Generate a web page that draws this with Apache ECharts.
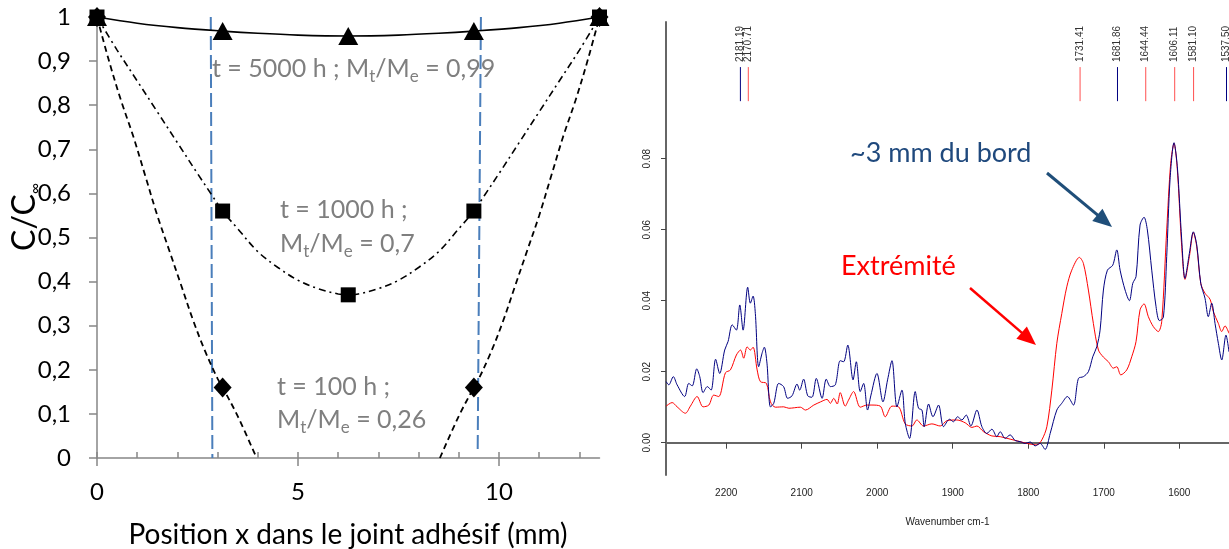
<!DOCTYPE html>
<html><head><meta charset="utf-8">
<script src="https://cdn.jsdelivr.net/npm/echarts@6/dist/echarts.min.js"></script>
<style>html,body{margin:0;padding:0;background:#fff}#c{width:1229px;height:549px}</style>
</head><body><div id="c"></div>
<script>
// ---------- Left chart data ----------
const posX = [0, 3.125, 6.25, 9.375, 12.5];
const mark5000 = [1, 0.968, 0.957, 0.968, 1];
const mark1000 = [1, 0.56, 0.37, 0.56, 1];
const mark100 = [1, 0.16, null, 0.16, 1];

const curve5000X = [0, 1, 2, 3.125, 4, 5, 6.25, 7.5, 8.5, 9.375, 10.5, 11.5, 12.5];
const curve5000Y = [1, 0.986, 0.976, 0.968, 0.963, 0.959, 0.957, 0.959, 0.963, 0.968, 0.976, 0.986, 1];

const curve1000X = [0, 0.5, 1, 1.5, 2, 2.5, 2.85, 3.125, 3.5, 4, 4.5, 5, 5.5, 6, 6.25, 6.5, 7, 7.5, 8, 8.5, 9, 9.375, 9.65, 10, 10.5, 11, 11.5, 12, 12.5];
const curve1000Y = [1, 0.925, 0.855, 0.785, 0.715, 0.645, 0.597, 0.56, 0.52, 0.468, 0.432, 0.403, 0.384, 0.372, 0.37, 0.372, 0.384, 0.403, 0.432, 0.468, 0.52, 0.56, 0.597, 0.645, 0.715, 0.785, 0.855, 0.925, 1];

const curve100LeftX = [0, 0.3, 0.6, 0.9, 1.2, 1.5, 1.8, 2.1, 2.4, 2.7, 3.0, 3.125, 3.5, 3.97];
const curve100LeftY = [1, 0.9, 0.81, 0.73, 0.64, 0.55, 0.47, 0.39, 0.31, 0.24, 0.18, 0.16, 0.095, 0];
const curve100RightX = [8.53, 9.0, 9.375, 9.5, 9.8, 10.1, 10.4, 10.7, 11.0, 11.3, 11.6, 11.9, 12.2, 12.5];
const curve100RightY = [0, 0.095, 0.16, 0.18, 0.24, 0.31, 0.39, 0.47, 0.55, 0.64, 0.73, 0.81, 0.9, 1];

const guideLeftX = [2.83, 2.87];
const guideLeftY = [1.0, 0];
const guideRightX = [9.55, 9.47];
const guideRightY = [1.0, 0.02];

const leftXLabels = [0, 5, 10];
const leftXMinor = [0, 1, 2, 3, 4, 5, 6, 7, 8, 9, 10, 11, 12];

// ---------- Right chart data (FTIR spectra) ----------
const blueWn = [2279.5,2276,2270,2265,2255,2249.6,2245,2239,2235,2230.6,2225,2220,2214,2208.6,2202,2197.5,2192,2186.5,2182,2177.6,2171.5,2168,2164.4,2161.4,2157,2152.5,2149.5,2146,2141.4,2137,2130.5,2124,2118.6,2112.8,2106.2,2102.7,2097.5,2092,2086.4,2080.7,2073,2067.5,2062,2055.5,2049,2044.5,2039,2032,2027.7,2022.5,2018,2012.8,2008.3,2000.4,1992.4,1986.3,1980.5,1973.9,1967.3,1962.9,1957.2,1949.7,1945.3,1940.8,1937.8,1932,1926.2,1918.8,1912.2,1904.3,1899,1893.7,1887.9,1882.2,1876,1868,1861.4,1854.8,1848.2,1841.6,1837.2,1830.6,1824,1817.4,1810.8,1804.1,1797.5,1790.9,1784.3,1777.7,1771,1762.2,1755.6,1748.2,1740.2,1733.6,1727,1720.4,1714.6,1709.3,1704.9,1700.5,1695.2,1688.1,1682.8,1678.4,1671.8,1666.1,1661.6,1657.3,1652,1646.7,1642.3,1636.5,1630.8,1626.4,1621.1,1616.7,1612.3,1607,1602.6,1596.8,1592.5,1586.7,1581.4,1576.9,1571.6,1566,1561.6,1557.1,1552.7,1548.3,1543.8,1538.2,1534.2];
const blueAbs = [0.0172,0.0163,0.0186,0.0163,0.013,0.0167,0.016,0.0208,0.0186,0.0141,0.0158,0.0148,0.0235,0.0195,0.0261,0.0285,0.0332,0.0317,0.0388,0.0317,0.0438,0.0393,0.0413,0.0364,0.0214,0.0252,0.0269,0.0224,0.0101,0.0111,0.0167,0.0158,0.0125,0.0132,0.0165,0.0148,0.0179,0.0132,0.0128,0.0181,0.0125,0.0179,0.0158,0.0163,0.0231,0.0228,0.0275,0.0177,0.0228,0.0144,0.0167,0.0092,0.0134,0.0195,0.0115,0.0177,0.0231,0.0101,0.0148,0.0055,0.0012,0.0144,0.0097,0.0092,0.0045,0.0109,0.0073,0.0106,0.0045,0.0066,0.0059,0.0073,0.0064,0.0078,0.0047,0.0092,0.0045,0.0026,0.0038,0.0017,0.0031,0.0012,0.0022,0.0006,0.0003,-0.0002,0.0002,-0.0009,-0.0002,-0.0019,0.0026,0.0092,0.0111,0.013,0.0106,0.0181,0.0186,0.02,0.0242,0.027,0.0317,0.043,0.0486,0.05,0.0543,0.0486,0.043,0.04,0.0449,0.0468,0.0613,0.0635,0.0599,0.0486,0.0383,0.0344,0.0353,0.0524,0.074,0.0845,0.0777,0.0571,0.0463,0.0533,0.0594,0.0557,0.0449,0.0407,0.0355,0.0393,0.0336,0.028,0.0233,0.0303,0.0256];

const redWn = [2279.5,2271.6,2265,2254,2247.4,2238.5,2230.6,2223,2216.5,2209.9,2201,2194.4,2186.5,2181,2176.8,2172.3,2168,2164.4,2159,2154.7,2146.7,2141.4,2134.8,2123.8,2117,2101.8,2095,2084,2075,2066.5,2062,2057.6,2053,2049,2042.4,2038,2031.3,2022.5,2013.7,2007,1996,1989.4,1980.5,1971.8,1962.9,1954,1947.5,1938.7,1927.6,1916.6,1907.7,1894.5,1883.5,1874.6,1868,1859.2,1848.2,1837.2,1824,1810.8,1797.5,1788.7,1782,1775.4,1768.8,1762.2,1755.6,1749,1742.4,1732.3,1727,1720.4,1713.8,1707.1,1700.5,1693.9,1687.3,1682.8,1677.5,1669.6,1663,1657.3,1652,1646.7,1641,1634.4,1627.8,1623.3,1616.7,1611.4,1607,1602.6,1596.8,1592.5,1586.7,1581.4,1576.9,1571.6,1566,1559.3,1554.9,1548.3,1543.8,1539.5,1534.2];
const redAbs = [0.0103,0.0113,0.0101,0.0083,0.0103,0.013,0.0101,0.0106,0.0134,0.013,0.0197,0.0205,0.0247,0.0261,0.0238,0.027,0.0261,0.0269,0.0205,0.0172,0.0167,0.0115,0.01,0.0101,0.0097,0.01,0.0092,0.0106,0.0115,0.0122,0.0111,0.0125,0.0109,0.0141,0.0103,0.012,0.0144,0.01,0.0106,0.0106,0.0103,0.0073,0.0103,0.0101,0.0053,0.0047,0.0064,0.0047,0.0053,0.0047,0.0062,0.0064,0.0056,0.0043,0.0047,0.0031,0.0019,0.0017,0.001,0.0003,-0.0004,-0.0006,0.0008,0.0045,0.0148,0.028,0.0364,0.0439,0.0486,0.0522,0.0505,0.043,0.0336,0.0261,0.0241,0.0228,0.021,0.0214,0.0191,0.0205,0.0242,0.0285,0.0374,0.0391,0.0355,0.0327,0.0313,0.0341,0.0599,0.0787,0.0843,0.0768,0.0552,0.046,0.0524,0.0592,0.0552,0.0449,0.0421,0.0404,0.0369,0.0336,0.0313,0.0329,0.0308];

const peakWn = [2181.19, 2170.71, 1731.41, 1681.86, 1644.44, 1606.11, 1581.10, 1537.50];
const peakSource = ['blue', 'red', 'red', 'blue', 'red', 'red', 'red', 'blue'];

const rightYTicks = [0, 0.02, 0.04, 0.06, 0.08];
const rightXTicks = [1600, 1700, 1800, 1900, 2000, 2100, 2200];

// ---------- helpers ----------
const zip = (xs, ys) => xs.map((x, i) => [x, ys[i]]);
const marks = (ys) => posX.map((x, i) => [x, ys[i]]).filter(p => p[1] !== null);
const CAL = 'Lato, "Open Sans", sans-serif';
const ARI = '"Liberation Sans", Arial, sans-serif';
const GRAY = '#7f7f7f';

function arrow(x1, y1, x2, y2, color, w) {
  const dx = x2 - x1, dy = y2 - y1, L = Math.hypot(dx, dy);
  const ux = dx / L, uy = dy / L, hl = 19, hw = 8;
  const bx = x2 - ux * hl, by = y2 - uy * hl;
  return [
    {type: 'line', shape: {x1, y1, x2: bx + ux * 2, y2: by + uy * 2}, style: {stroke: color, lineWidth: w}},
    {type: 'polygon', shape: {points: [[x2, y2], [bx - uy * hw, by + ux * hw], [bx + uy * hw, by - ux * hw]]}, style: {fill: color}}
  ];
}

// main text + lowered subscript (padding-top pushes the small token down)
const subRich = (size, sub, color, drop) => ({
  a: {fontSize: size, fontFamily: CAL, fill: color, lineHeight: size + 2 * drop},
  s: {fontSize: sub, fontFamily: CAL, fill: color, lineHeight: sub + 2, padding: [2 * drop, 0, 0, 0]}
});

const chart = echarts.init(document.getElementById('c'), null, {renderer: 'canvas'});

const blackLine = (data, dash, width) => ({
  type: 'line', xAxisIndex: 0, yAxisIndex: 0, data, smooth: 0.35, symbol: 'none', silent: true, z: 3,
  lineStyle: {color: '#000', width: width || 1.6, type: dash || 'solid'}
});
const markerSeries = (data, symbol, size) => ({
  type: 'scatter', xAxisIndex: 0, yAxisIndex: 0, data, symbol, symbolSize: size,
  itemStyle: {color: '#000', opacity: 1}, z: 5, silent: true
});

const option = {
  animation: false,
  backgroundColor: '#fff',
  grid: [
    {left: 97, top: 17, width: 502.5, height: 441},
    {left: 666, top: 22, right: 0, height: 453}
  ],
  xAxis: [
    {
      gridIndex: 0, type: 'value', min: 0, max: 12.5, position: 'bottom',
      axisLine: {lineStyle: {color: '#868686', width: 1.5}},
      axisTick: {customValues: leftXMinor, inside: true, length: 6, lineStyle: {color: '#868686', width: 1.5}},
      axisLabel: {customValues: leftXLabels, color: '#000', fontFamily: CAL, fontSize: 24, margin: 22},
      splitLine: {show: false}
    },
    {
      gridIndex: 0, type: 'value', min: 0, max: 12.5, position: 'bottom', offset: 0,
      axisLine: {show: false},
      axisTick: {customValues: leftXLabels, inside: false, length: 8, lineStyle: {color: '#868686', width: 1.5}},
      axisLabel: {show: false}, splitLine: {show: false}
    },
    {
      gridIndex: 1, type: 'value', min: 1534.2, max: 2279.7, inverse: true,
      axisLine: {lineStyle: {color: '#666', width: 2}},
      axisTick: {customValues: rightXTicks, length: 6, lineStyle: {color: '#444', width: 1}},
      axisLabel: {customValues: rightXTicks, color: '#222', fontFamily: ARI, fontSize: 10, margin: 13,
        formatter: v => String(v)},
      splitLine: {show: false},
      name: 'Wavenumber cm-1', nameLocation: 'middle', nameGap: 42,
      nameTextStyle: {color: '#222', fontFamily: ARI, fontSize: 10}
    }
  ],
  yAxis: [
    {
      gridIndex: 0, type: 'value', min: 0, max: 1, interval: 0.1,
      axisLine: {show: true, lineStyle: {color: '#868686', width: 1.5}},
      axisTick: {show: true, length: 8, lineStyle: {color: '#868686', width: 1.5}},
      axisLabel: {color: '#000', fontFamily: CAL, fontSize: 24, margin: 26,
        formatter: v => String(Math.round(v * 10) / 10).replace('.', ',')},
      splitLine: {show: false}
    },
    {
      gridIndex: 1, type: 'value', min: -0.0091, max: 0.1185,
      axisLine: {show: true, lineStyle: {color: '#666', width: 2}},
      axisTick: {show: true, customValues: rightYTicks, length: 5, lineStyle: {color: '#444', width: 1}},
      axisLabel: {customValues: rightYTicks, rotate: 90, color: '#222', fontFamily: ARI, fontSize: 10, margin: 14,
        formatter: v => v.toFixed(2)},
      splitLine: {show: false}
    }
  ],
  series: [
    blackLine(zip(curve5000X, curve5000Y), 'solid', 1.6),
    blackLine(zip(curve1000X, curve1000Y), [7, 4, 2, 4], 1.6),
    blackLine(zip(curve100LeftX, curve100LeftY), [6, 4], 1.8),
    blackLine(zip(curve100RightX, curve100RightY), [6, 4], 1.8),
    {type: 'line', xAxisIndex: 0, yAxisIndex: 0, data: zip(guideLeftX, guideLeftY), symbol: 'none', silent: true, z: 2,
      lineStyle: {color: '#4a7ebb', width: 2, type: [14, 5]}},
    {type: 'line', xAxisIndex: 0, yAxisIndex: 0, data: zip(guideRightX, guideRightY), symbol: 'none', silent: true, z: 2,
      lineStyle: {color: '#4a7ebb', width: 2, type: [14, 5]}},
    markerSeries(marks(mark100), 'diamond', [18, 20]),
    markerSeries(marks(mark1000), 'rect', 15),
    markerSeries(marks(mark5000), 'triangle', [20, 18]),
    {type: 'line', xAxisIndex: 2, yAxisIndex: 1, data: zip(redWn, redAbs), smooth: 0.3, symbol: 'none', silent: true,
      lineStyle: {color: '#ff0000', width: 1}, z: 3},
    {type: 'line', xAxisIndex: 2, yAxisIndex: 1, data: zip(blueWn, blueAbs), smooth: 0.3, symbol: 'none', silent: true,
      lineStyle: {color: '#000080', width: 1}, z: 4},
    {
      type: 'custom', xAxisIndex: 2, yAxisIndex: 1, clip: false, silent: true, z: 5,
      data: peakWn.map(w => [w]),
      renderItem: (params, api) => {
        const w = api.value(0);
        const top = api.coord([w, 0.1058]);
        const bot = api.coord([w, 0.0962]);
        const lab = api.coord([w, 0.1072]);
        const col = peakSource[params.dataIndex] === 'blue' ? '#000080' : '#ff5050';
        return {type: 'group', children: [
          {type: 'line', shape: {x1: top[0], y1: top[1], x2: bot[0], y2: bot[1]}, style: {stroke: col, lineWidth: 1}},
          {type: 'text', x: lab[0], y: lab[1], rotation: Math.PI / 2,
            style: {text: w.toFixed(2), fill: '#333', font: '10px ' + ARI, align: 'left', verticalAlign: 'middle'}}
        ]};
      }
    }
  ],
  graphic: [
    {type: 'text', x: 212, y: 69, style: {text: '{a|t = 5000 h ; M}{s|t}{a|/M}{s|e}{a| = 0,99}', rich: subRich(25, 17, GRAY, 8), verticalAlign: 'middle'}},
    {type: 'text', x: 280, y: 210, style: {text: '{a|t = 1000 h ;}', rich: subRich(25, 17, GRAY, 8), verticalAlign: 'middle'}},
    {type: 'text', x: 280, y: 244, style: {text: '{a|M}{s|t}{a|/M}{s|e}{a| = 0,7}', rich: subRich(25, 17, GRAY, 8), verticalAlign: 'middle'}},
    {type: 'text', x: 277, y: 387, style: {text: '{a|t = 100 h ;}', rich: subRich(25, 17, GRAY, 8), verticalAlign: 'middle'}},
    {type: 'text', x: 277, y: 420, style: {text: '{a|M}{s|t}{a|/M}{s|e}{a| = 0,26}', rich: subRich(25, 17, GRAY, 8), verticalAlign: 'middle'}},
    {type: 'text', x: 348, y: 535, style: {text: 'Position x dans le joint adhésif (mm)', font: '28px ' + CAL, fill: '#000', align: 'center', verticalAlign: 'middle'}},
    {type: 'text', x: 25, y: 251, rotation: Math.PI / 2,
      style: {text: '{a|C/C}{s|∞}', rich: subRich(32, 15, '#000', 10), align: 'left', verticalAlign: 'middle'}},
    {type: 'text', x: 850, y: 153, style: {text: '~3 mm du bord', font: '27px ' + CAL, fill: '#1f497d', align: 'left', verticalAlign: 'middle'}},
    {type: 'text', x: 841, y: 266, style: {text: 'Extrémité', font: '27px ' + CAL, fill: '#ff0000', align: 'left', verticalAlign: 'middle'}},
    ...arrow(1047, 173, 1112, 227, '#1f4e79', 3),
    ...arrow(970, 288, 1036, 345, '#ff0000', 2.5)
  ]
};
chart.setOption(option);
</script></body></html>
